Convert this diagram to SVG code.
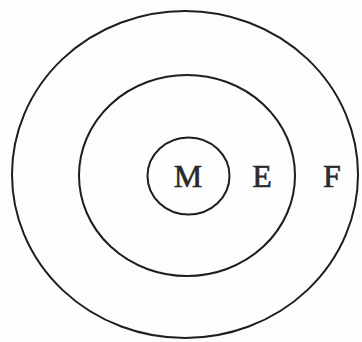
<svg xmlns="http://www.w3.org/2000/svg" width="362" height="342" viewBox="0 0 362 342">
<style>
.ring{fill:none;stroke:#1e1e1e;stroke-width:2}
.lbl{font-family:"Liberation Serif","DejaVu Serif",serif;font-size:32px;fill:#2a2a2a;stroke:#2a2a2a;stroke-width:0.6;text-anchor:middle}
</style>
<rect width="362" height="342" fill="#fdfdfd"/>
<g id="F"><ellipse class="ring" cx="185" cy="174.5" rx="173" ry="163.5"/><text class="lbl" x="332" y="187">F</text></g>
<g id="E"><ellipse class="ring" cx="187" cy="175.5" rx="108" ry="100.5"/><text class="lbl" x="262" y="187">E</text></g>
<g id="M"><ellipse class="ring" cx="188.5" cy="176" rx="41" ry="38.5"/><text class="lbl" x="188" y="187">M</text></g>
<g id="connectors"/>
</svg>
